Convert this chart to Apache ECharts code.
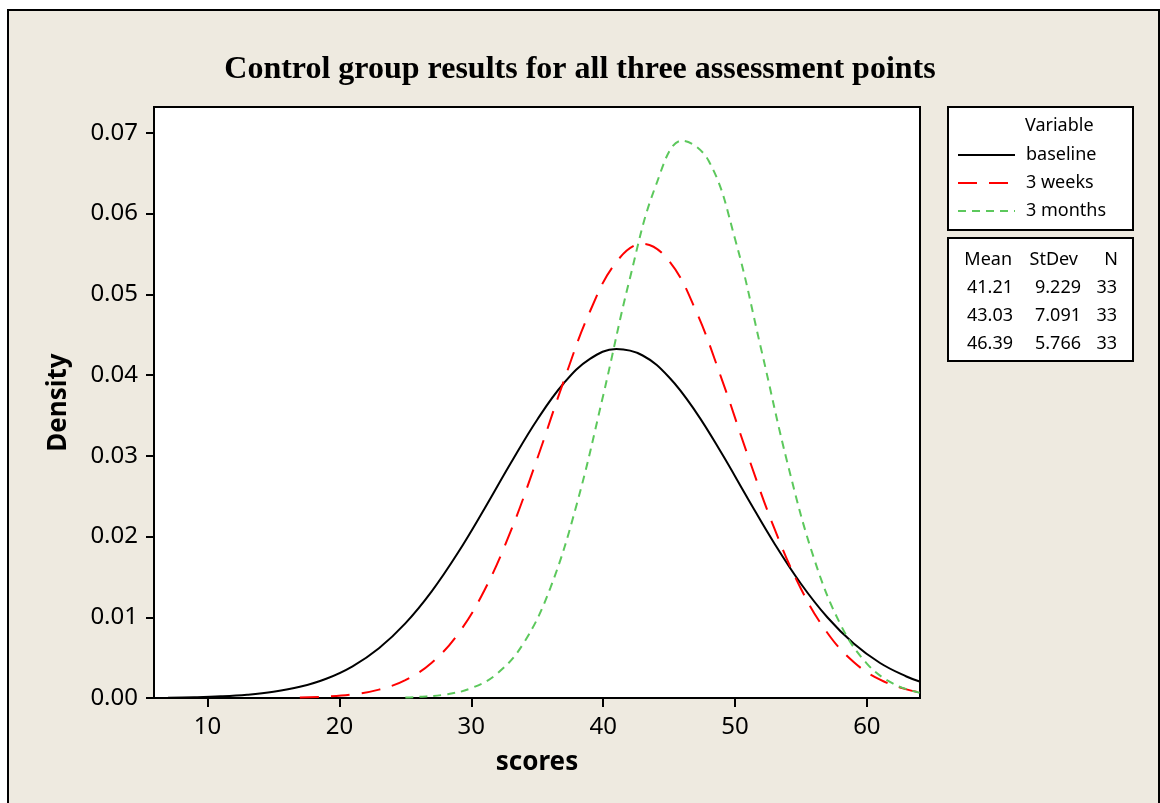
<!DOCTYPE html>
<html lang="en">
<head>
    <meta charset="UTF-8">
    <title>Control group results for all three assessment points</title>
    <script src="https://cdn.jsdelivr.net/npm/echarts@6/dist/echarts.min.js"></script>
    <style>
        body { margin: 0; background: #fff; }
        #frame {
            position: absolute; left: 7px; top: 9px;
            width: 1149px; height: 800px;
            border: 2px solid #000;
            background: #EEEAE0;
        }
        #main {
            position: absolute; left: 0; top: 0;
            width: 1160px; height: 803px;
        }
    </style>
</head>
<body>
    <div id="frame"></div>
    <div id="main"></div>
    <script>
        // density curves (score -> density)
        var baselineX = [7, 9, 11, 13, 15, 17, 19, 21, 23, 25, 27, 29, 31, 33, 35, 37, 39, 41, 43, 45, 47, 49, 51, 53, 55, 57, 59, 61, 63, 64];
        var baselineY = [0.000045, 0.000098, 0.000204, 0.000405, 0.000766, 0.001385, 0.002389, 0.003931, 0.006171, 0.009245,
                         0.013212, 0.018016, 0.023441, 0.029100, 0.034470, 0.038955, 0.042005, 0.043216, 0.042422, 0.039732,
                         0.035505, 0.030272, 0.024626, 0.019115, 0.014156, 0.010003, 0.006744, 0.004338, 0.002662, 0.002050];

        var weeksX = [17, 19, 21, 23, 25, 27, 29, 31, 33, 35, 37, 39, 41, 43, 45, 47, 49, 51, 53, 55, 57, 59, 61, 63, 64];
        var weeksY = [0.000067, 0.000181, 0.000451, 0.001041, 0.002220, 0.004370, 0.007945, 0.013342, 0.020689, 0.029630,
                      0.039189, 0.047869, 0.054000, 0.056258, 0.054129, 0.048098, 0.039471, 0.029914, 0.020938, 0.013534,
                      0.008079, 0.004454, 0.002268, 0.001066, 0.000710];

        var monthsX = [25, 26, 28, 30, 32, 34, 36, 38, 40, 42, 44, 46, 48, 50, 52, 54, 56, 58, 60, 62, 64];
        var monthsY = [0.000071, 0.000133, 0.000428, 0.001218, 0.003073, 0.006877, 0.013644, 0.024003, 0.037440, 0.051779,
                       0.063493, 0.069030, 0.066543, 0.056874, 0.043100, 0.028959, 0.017252, 0.009113, 0.004268, 0.001772, 0.000652];

        var seriesNames = ['baseline', '3 weeks', '3 months'];
        var statMean = ['41.21', '43.03', '46.39'];
        var statStDev = ['9.229', '7.091', '5.766'];
        var statN = ['33', '33', '33'];

        var xTicks = [10, 20, 30, 40, 50, 60];
        var yTicks = [0, 0.01, 0.02, 0.03, 0.04, 0.05, 0.06, 0.07];

        function pairs(xs, ys) {
            return xs.map(function (x, i) { return [x, ys[i]]; });
        }

        var tickFont = '"Noto Sans", sans-serif';
        var smallFont = '18px "Noto Sans", sans-serif';

        // stats table + legend header as plain text
        var graphics = [
            { type: 'rect', shape: { x: 948, y: 107, width: 185, height: 123 },
              style: { fill: '#fff', stroke: '#000', lineWidth: 2 }, z: 0 },
            { type: 'rect', shape: { x: 948, y: 238, width: 185, height: 123 },
              style: { fill: '#fff', stroke: '#000', lineWidth: 2 }, z: 0 },
            { type: 'text', style: { text: 'Variable', x: 1025, y: 126, font: smallFont, fill: '#000', verticalAlign: 'middle' }, z: 2 },
            { type: 'text', style: { text: 'Mean', x: 1012, y: 260, font: smallFont, fill: '#000', align: 'right', verticalAlign: 'middle' }, z: 2 },
            { type: 'text', style: { text: 'StDev', x: 1078, y: 260, font: smallFont, fill: '#000', align: 'right', verticalAlign: 'middle' }, z: 2 },
            { type: 'text', style: { text: 'N', x: 1118, y: 260, font: smallFont, fill: '#000', align: 'right', verticalAlign: 'middle' }, z: 2 }
        ];
        for (var i = 0; i < 3; i++) {
            var yy = 288 + i * 28;
            graphics.push({ type: 'text', style: { text: statMean[i], x: 1013, y: yy, font: smallFont, fill: '#000', align: 'right', verticalAlign: 'middle' }, z: 2 });
            graphics.push({ type: 'text', style: { text: statStDev[i], x: 1081, y: yy, font: smallFont, fill: '#000', align: 'right', verticalAlign: 'middle' }, z: 2 });
            graphics.push({ type: 'text', style: { text: statN[i], x: 1117, y: yy, font: smallFont, fill: '#000', align: 'right', verticalAlign: 'middle' }, z: 2 });
        }

        var myChart = echarts.init(document.getElementById('main'));
        var option = {
            backgroundColor: 'transparent',
            animation: false,
            title: {
                text: 'Control group results for all three assessment points',
                left: 'center',
                top: 49,
                textStyle: {
                    fontFamily: '"Liberation Serif", serif',
                    fontWeight: 'bold',
                    fontSize: 32,
                    color: '#000'
                }
            },
            grid: {
                left: 154, top: 107, right: 240, bottom: 105,
                show: true,
                backgroundColor: '#fff',
                borderColor: '#000',
                borderWidth: 2
            },
            legend: {
                data: seriesNames,
                orient: 'vertical',
                left: 957,
                top: 146,
                padding: 0,
                itemWidth: 57,
                itemHeight: 14,
                itemGap: 10,
                itemStyle: { opacity: 0 },
                textStyle: { fontFamily: '"Noto Sans", sans-serif', fontSize: 18, color: '#000', padding: [0, 0, 0, 6] }
            },
            xAxis: {
                type: 'value',
                min: 5.94,
                max: 64.03,
                name: 'scores',
                nameLocation: 'middle',
                nameGap: 52,
                nameTextStyle: { fontFamily: tickFont, fontWeight: 'bold', fontSize: 26, color: '#000' },
                axisLine: { lineStyle: { color: '#000', width: 2 } },
                axisTick: { customValues: xTicks, length: 9, lineStyle: { color: '#000', width: 2 } },
                axisLabel: { customValues: xTicks, fontFamily: tickFont, fontSize: 24, color: '#000', margin: 17 },
                splitLine: { show: false }
            },
            yAxis: {
                type: 'value',
                min: 0,
                max: 0.0732,
                name: 'Density',
                nameLocation: 'middle',
                nameGap: 82,
                nameTextStyle: { fontFamily: tickFont, fontWeight: 'bold', fontSize: 26, color: '#000' },
                axisLine: { show: true, lineStyle: { color: '#000', width: 2 } },
                axisTick: { show: true, customValues: yTicks, length: 8, lineStyle: { color: '#000', width: 2 } },
                axisLabel: {
                    customValues: yTicks, fontFamily: tickFont, fontSize: 24, color: '#000', margin: 16,
                    formatter: function (v) { return v.toFixed(2); }
                },
                splitLine: { show: false }
            },
            graphic: graphics,
            series: [
                {
                    name: seriesNames[0], type: 'line', data: pairs(baselineX, baselineY),
                    smooth: 0.4, symbol: 'none',
                    lineStyle: { color: '#000', width: 2 }, itemStyle: { color: '#000' }
                },
                {
                    name: seriesNames[1], type: 'line', data: pairs(weeksX, weeksY),
                    smooth: 0.4, symbol: 'none',
                    lineStyle: { color: '#ff0000', width: 2, type: [19, 12] }, itemStyle: { color: '#ff0000' }
                },
                {
                    name: seriesNames[2], type: 'line', data: pairs(monthsX, monthsY),
                    smooth: 0.4, symbol: 'none',
                    lineStyle: { color: '#5cc85c', width: 2, type: [8, 6] }, itemStyle: { color: '#5cc85c' }
                }
            ]
        };
        myChart.setOption(option);
    </script>
</body>
</html>
